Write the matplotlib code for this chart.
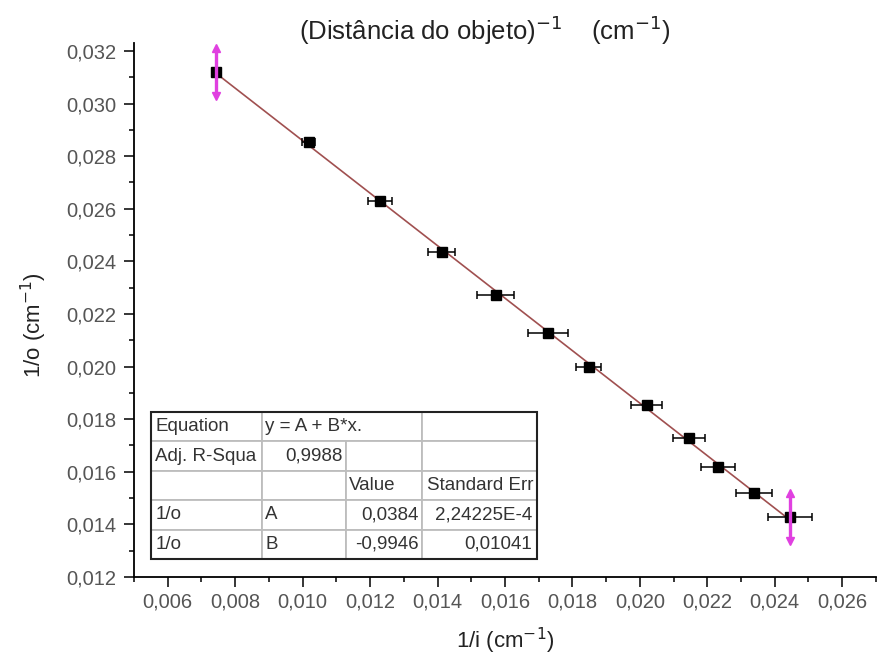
import numpy as np
import matplotlib
matplotlib.use("Agg")
import matplotlib.pyplot as plt
from matplotlib.ticker import MultipleLocator, FuncFormatter

plt.rcParams['font.family'] = ['Liberation Sans', 'DejaVu Sans']

# 1/i and 1/o readings (cm^-1) with x uncertainties
inv_i = [0.00742, 0.01018, 0.01229, 0.01412, 0.01572, 0.01727,
         0.01849, 0.02021, 0.02146, 0.02232, 0.02338, 0.02445]
inv_o = [0.03121, 0.02855, 0.02631, 0.02437, 0.02272, 0.02127,
         0.02000, 0.01854, 0.01729, 0.01620, 0.01518, 0.01429]
err_i = [0.00000, 0.00020, 0.00035, 0.00040, 0.00055, 0.00060,
         0.00037, 0.00046, 0.00047, 0.00050, 0.00054, 0.00064]
err_o = [0.00010] * 12

# points marked with the magenta vertical arrows
marked = [0, 11]
marked_err = [0.00092, 0.00092]

# fit table (as printed)
table_rows = [
    ["Equation", "y = A + B*x.", "", ""],
    ["Adj. R-Squa", "0,9988", "", ""],
    ["", "", "Value", "Standard Err"],
    ["1/o", "A", "0,0384", "2,24225E-4"],
    ["1/o", "B", "-0,9946", "0,01041"],
]
col_px = [111, 84, 76, 115]

fig = plt.figure(figsize=(8.77, 6.63), dpi=100)
ax = fig.add_axes([0.1528, 0.1297, 0.846, 0.8054])

x = np.array(inv_i)
y = np.array(inv_o)

# linear fit line
B, A = np.polyfit(x, y, 1)
xf = np.array([x.min(), x.max()])
ax.plot(xf, A + B * xf, color='#a05050', lw=1.2, zorder=2)

ax.errorbar(x, y, xerr=err_i, yerr=err_o, fmt='s', color='black', ms=7,
            ecolor='black', elinewidth=1.1, capsize=3.2, capthick=1.1, zorder=3)

# magenta markers on first and last point
for k, e in zip(marked, marked_err):
    ax.errorbar([x[k]], [y[k]], yerr=[e], fmt='none', ecolor='#e040e0',
                elinewidth=2.4, capsize=0, zorder=4)
    ax.plot([x[k]], [y[k] + e], marker='^', color='#e040e0', ms=5.5, zorder=4)
    ax.plot([x[k]], [y[k] - e], marker='v', color='#e040e0', ms=5.5, zorder=4)

ax.set_xlim(0.005, 0.027)
ax.set_ylim(0.012, 0.0323)
ax.xaxis.set_major_locator(MultipleLocator(0.002))
ax.xaxis.set_minor_locator(MultipleLocator(0.001))
ax.yaxis.set_major_locator(MultipleLocator(0.002))
ax.yaxis.set_minor_locator(MultipleLocator(0.001))
comma = FuncFormatter(lambda v, p: f"{v:.3f}".replace('.', ','))
ax.xaxis.set_major_formatter(comma)
ax.yaxis.set_major_formatter(comma)
ax.tick_params(which='major', direction='out', length=7.5, width=1.1,
               labelsize=14.5, labelcolor='#555555')
ax.tick_params(axis='x', which='major', pad=4)
ax.tick_params(axis='y', which='major', pad=5)
ax.tick_params(which='minor', direction='out', length=3.6, width=1.1)

for s in ['top', 'right']:
    ax.spines[s].set_visible(False)
for s in ['left', 'bottom']:
    ax.spines[s].set_linewidth(1.3)

ax.set_xlabel(r"1/i (cm$^{-1}$)", fontsize=16, labelpad=10, color='#222222')
ax.set_ylabel(r"1/o (cm$^{-1}$)", fontsize=16, color='#222222')
ax.yaxis.set_label_coords(-0.114, 0.472)
fig.text(0.553, 0.955, r"(Distância do objeto)$^{-1}$    (cm$^{-1}$)",
         ha='center', va='center', fontsize=18.5, color='#222222')

# fit results table
tot = sum(col_px)
bbox = [17 / 742, 18 / 534, tot / 742, 147 / 534]
tab = ax.table(cellText=table_rows, colWidths=[c / tot for c in col_px],
               bbox=bbox, cellLoc='left')
tab.auto_set_font_size(False)
tab.set_fontsize(13.5)
right_cells = [(1, 1), (3, 2), (3, 3), (4, 2), (4, 3)]
for (r, c), cell in tab.get_celld().items():
    cell.set_edgecolor('#bdbdbd')
    cell.set_linewidth(1.3)
    cell.PAD = 0.04
    txt = cell.get_text()
    txt.set_color('#333333')
    if (r, c) in right_cells:
        cell._loc = 'right'
        txt.set_horizontalalignment('right')
tab[0, 1].visible_edges = 'BTL'
tab[0, 2].visible_edges = 'BTR'
tab[0, 2].set_facecolor('none')
# outer frame
ax.add_patch(plt.Rectangle((bbox[0], bbox[1]), bbox[2], bbox[3],
                           transform=ax.transAxes, fill=False,
                           edgecolor='#222222', lw=1.5, zorder=6))

fig.savefig("out.png", dpi=100)
